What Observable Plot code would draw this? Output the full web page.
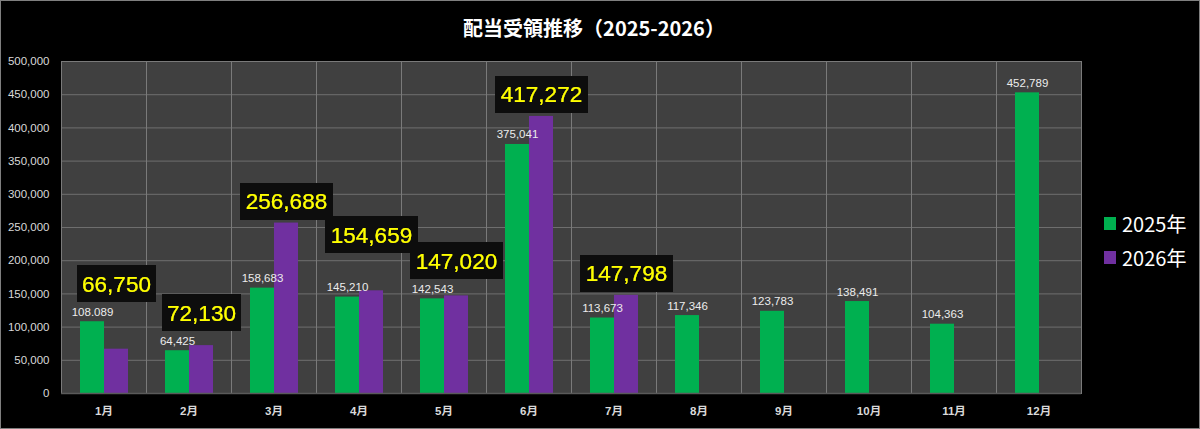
<!DOCTYPE html>
<html>
<head>
<meta charset="utf-8">
<script src="https://cdn.jsdelivr.net/npm/d3@7"></script>
<script src="https://cdn.jsdelivr.net/npm/@observablehq/plot@0.6"></script>
<style>
  html, body { margin: 0; padding: 0; background: #000; }
  #wrap { position: relative; width: 1200px; height: 429px; background: #000; overflow: hidden; }
  #border { position: absolute; left: 0; top: 0; width: 1200px; height: 429px; box-sizing: border-box; border: 1px solid #7f7f7f; pointer-events: none; }
  #title { position: absolute; left: 0; top: 13px; width: 1188px; text-align: center; color: #fff;
    font-family: "Noto Sans CJK JP", sans-serif; font-weight: bold; font-size: 20px; line-height: 30px; }
  #legend { position: absolute; left: 1104px; top: 206px; color: #fff; font-family: "Noto Sans CJK JP", sans-serif; font-size: 20px; }
  .item { display: flex; align-items: center; height: 34px; }
  .sw { width: 12px; height: 13px; margin-right: 6px; }
  #chart { position: absolute; left: 0; top: 0; }
</style>
</head>
<body>
<div id="wrap">
  <div id="chart"></div>
  <div id="title">配当受領推移（2025-2026）</div>
  <div id="legend"></div>
  <div id="border"></div>
</div>
<script>
// ---- data ----
const months = ["1月","2月","3月","4月","5月","6月","7月","8月","9月","10月","11月","12月"];
const years = ["2025年","2026年"];
const values2025 = [108089, 64425, 158683, 145210, 142543, 375041, 113673, 117346, 123783, 138491, 104363, 452789];
const labels2025 = ["108.089","64,425","158,683","145,210","142,543","375,041","113,673","117,346","123,783","138,491","104,363","452,789"];
const values2026 = [66750, 72130, 256688, 154659, 147020, 417272, 147798];
const yTicks = [0, 50000, 100000, 150000, 200000, 250000, 300000, 350000, 400000, 450000, 500000];
const colors = ["#00b050", "#7030a0"];

// ---- layout ----
const W = 1200, H = 429, mT = 61, mB = 36, mL = 60, mR = 118;
const yMax = 500000;
const k = yMax / (H - mT - mB); // data units per pixel

const rows2025 = months.map((m, i) => ({month: m, year: years[0], value: values2025[i], label: labels2025[i]}));
const rows2026 = values2026.map((v, i) => ({month: months[i], year: years[1], value: v, label: d3.format(",")(v)}));
const bars = rows2025.concat(rows2026);

// yellow label sits above its purple bar, above the 2025 label of the same month,
// and is staggered against its right neighbour when they would collide
const boxes = rows2026.map((d, i) => ({
  ...d,
  anchor: Math.max(d.value + 3 * k, values2025[i] + 19 * k)
}));
for (let i = boxes.length - 2; i >= 0; i--) {
  if (Math.abs(boxes[i].anchor - boxes[i + 1].anchor) < 34 * k) {
    boxes[i].anchor = Math.max(boxes[i].anchor, boxes[i + 1].anchor + 26 * k);
  }
}

const chart = Plot.plot({
  width: W, height: H,
  marginTop: mT, marginBottom: mB, marginLeft: mL, marginRight: mR,
  style: {background: "transparent", color: "#d9d9d9", fontSize: "11.5px", fontFamily: "'Liberation Sans', 'Noto Sans CJK JP', sans-serif"},
  fx: {domain: months, padding: 0, paddingInner: 0, paddingOuter: 0, axis: "bottom", label: null, tickSize: 0, tickPadding: 13},
  x: {domain: years, paddingInner: 0, paddingOuter: 0.739, axis: null},
  y: {domain: [0, yMax], ticks: yTicks, tickFormat: d3.format(","), tickSize: 0, tickPadding: 12, label: null},
  color: {domain: years, range: colors},
  marks: [
    Plot.frame({fill: "#404040", stroke: null}),
    Plot.ruleY(yTicks, {stroke: "#6e6e6e", strokeWidth: 1}),
    Plot.barY(bars, {fx: "month", x: "year", y: "value", fill: "year"}),
    Plot.frame({stroke: "#7a7a7a", strokeWidth: 1}),
    Plot.ruleY([0], {stroke: "#5a5a5a", strokeWidth: 1.5}),
    Plot.text(rows2025, {fx: "month", x: "year", y: "value", text: "label", lineAnchor: "bottom", dy: -6,
      fill: "#ececec", fontSize: 11.5}),
    Plot.text(boxes, {fx: "month", x: "year", y: "anchor", text: "label", lineAnchor: "bottom", dy: -11,
      fill: "#ffff00", fontSize: 22.5, className: "yellow-labels"})
  ]
});
document.getElementById("chart").appendChild(chart);

// background box behind yellow labels
const svg = d3.select(chart.tagName.toLowerCase() === "svg" ? chart : chart.querySelector("svg"));
const defs = svg.insert("defs", ":first-child");
const f = defs.append("filter").attr("id", "labelBg")
  .attr("x", -0.06).attr("y", -0.24).attr("width", 1.12).attr("height", 1.44);
f.append("feFlood").attr("flood-color", "#0c0c0c").attr("result", "bg");
const mg = f.append("feMerge");
mg.append("feMergeNode").attr("in", "bg");
mg.append("feMergeNode").attr("in", "SourceGraphic");
svg.selectAll("g.yellow-labels text, g[fill='#ffff00'] text").attr("filter", "url(#labelBg)");
// month labels bold
svg.selectAll("g[aria-label='fx-axis tick label'] text").attr("font-weight", "bold");

// legend
const lg = d3.select("#legend");
years.forEach((y, i) => {
  const it = lg.append("div").attr("class", "item");
  it.append("div").attr("class", "sw").style("background", colors[i]);
  it.append("span").text(y);
});
</script>
</body>
</html>
